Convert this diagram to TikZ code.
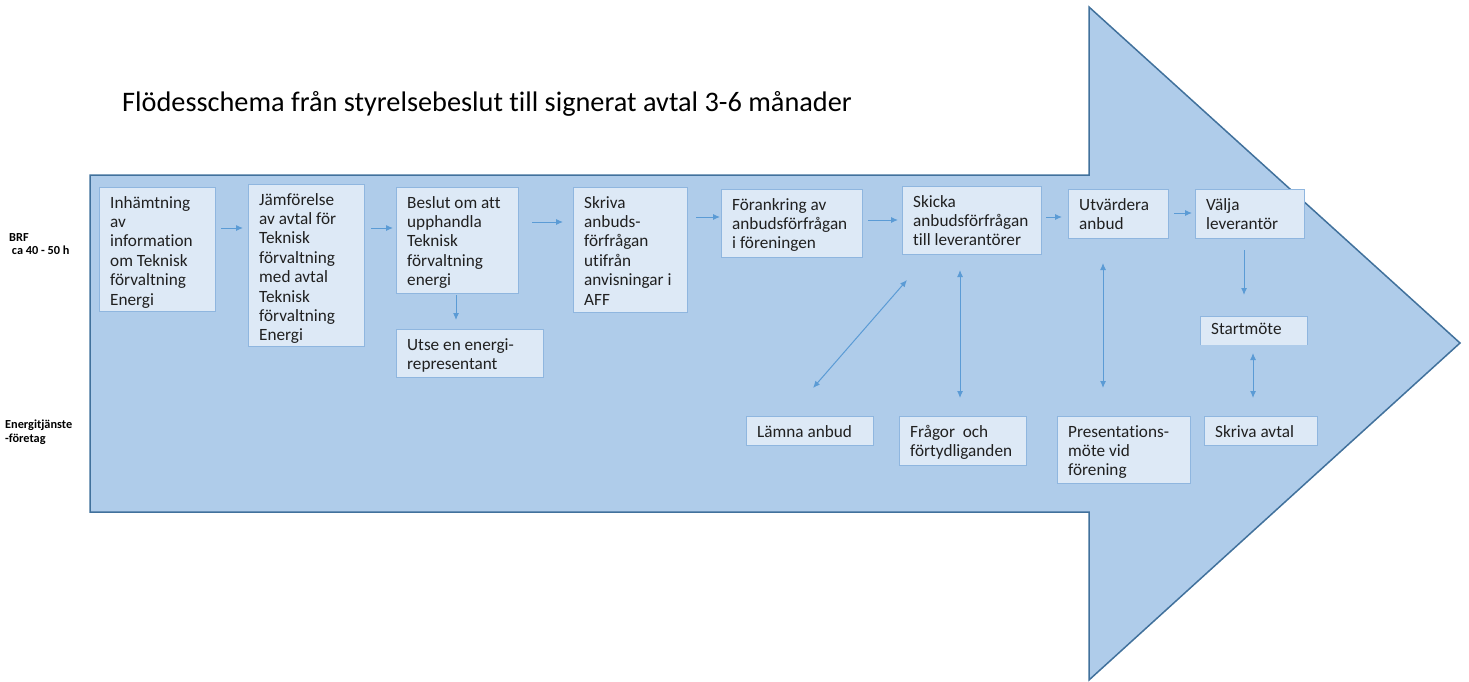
\documentclass[tikz,border=0pt]{standalone}
\usepackage{fontspec}
\setmainfont{Carlito}[Ligatures=NoCommon]
\usetikzlibrary{arrows.meta}
\definecolor{arrowfill}{HTML}{AFCCEA}
\definecolor{arrowline}{HTML}{41719C}
\definecolor{boxfill}{HTML}{DDE9F6}
\definecolor{boxline}{HTML}{8FB6DF}
\definecolor{conn}{HTML}{5B9BD5}
\definecolor{txt}{HTML}{202020}
\tikzset{
  bigarrow/.style={fill=arrowfill, draw=arrowline, line width=1.5pt, line join=miter},
  boxnode/.style={draw=boxline, fill=boxfill, line width=1pt, inner sep=0pt, anchor=north west},
  boxtext/.style={inner sep=0pt, anchor=north west, align=left, text=txt,
     font=\fontsize{17.2}{19.4}\selectfont},
  lane/.style={inner sep=0pt, anchor=north west, align=left, text=black,
     font=\fontsize{12.3}{13.5}\selectfont\bfseries},
  flow/.style={draw=conn, line width=1pt, -{Latex[length=7pt,width=6pt]}},
  both/.style={draw=conn, line width=1pt, {Latex[length=7pt,width=6pt]}-{Latex[length=7pt,width=6pt]}},
}
\newcommand{\bx}[6]{%
  \node[boxnode, minimum width=#4pt-#2pt, minimum height=#5pt-#3pt] (#1) at (#2,#3) {};
  \node[boxtext] (#1t) at ([xshift=11pt,yshift=-9pt]#1.north west) {#6};
}
\begin{document}
\begin{tikzpicture}[x=1pt,y=-1pt]
\useasboundingbox (0,0) rectangle (1469,682);
\draw[bigarrow] (90,175) -- (1089,175) -- (1089,7) -- (1460,343) -- (1089,680) -- (1089,512) -- (90,512) -- cycle;
\node[inner sep=0pt, anchor=base west, font=\fontsize{28.3}{32}\selectfont] (title) at (122,112) {Flödesschema från styrelsebeslut till signerat avtal 3-6 månader};
\node[lane] (brf) at (9,233) {BRF\\\ ca 40 - 50 h};
\node[lane] (energi) at (5,420) {Energitjänste\\-företag};
\bx{b1}{99}{187}{215}{311}{Inhämtning\\av\\information\\om Teknisk\\förvaltning\\Energi}
\bx{b2}{248}{184}{364}{346}{Jämförelse\\av avtal för\\Teknisk\\förvaltning\\med avtal\\Teknisk\\förvaltning\\Energi}
\bx{b3}{396}{187}{518}{293}{Beslut om att\\upphandla\\Teknisk\\förvaltning\\energi}
\bx{b4}{396}{329}{543}{377}{Utse en energi-\\representant}
\bx{b5}{573}{187}{687}{312}{Skriva\\anbuds-\\förfrågan\\utifrån\\anvisningar i\\AFF}
\bx{b6}{721}{189}{862}{257}{Förankring av\\anbudsförfrågan\\i föreningen}
\bx{b7}{902}{186}{1041}{254}{Skicka\\anbudsförfrågan\\till leverantörer}
\bx{b8}{1068}{189}{1168}{238}{Utvärdera\\anbud}
\bx{b9}{1195}{189}{1304}{238}{Välja\\leverantör}
% Startmöte: border open at the bottom
\node[boxnode, draw=none, minimum width=106pt, minimum height=28pt] (b10) at (1200,316) {};
\draw[draw=boxline, line width=1pt] (b10.south west) -- (b10.north west) -- (b10.north east) -- (b10.south east);
\node[boxtext] (b10t) at ([xshift=11pt,yshift=-7pt]b10.north west) {Startmöte};
\bx{b11}{746}{416}{873}{445}{Lämna anbud}
\bx{b12}{899}{416}{1026}{465}{Frågor\ \ och\\förtydliganden}
\bx{b13}{1057}{416}{1190}{483}{Presentations-\\möte vid\\förening}
\bx{b14}{1204}{416}{1317}{445}{Skriva avtal}
% connectors
\draw[flow] ([xshift=5pt]b1.east |- 0,228) -- ([xshift=-5pt]b2.west |- 0,228);
\draw[flow] ([xshift=6pt]b2.east |- 0,228) -- ([xshift=-3pt]b3.west |- 0,228);
\draw[flow] ([xshift=13pt]b3.east |- 0,222) -- ([xshift=-10pt]b5.west |- 0,222);
\draw[flow] ([xshift=8pt]b5.east |- 0,217) -- ([xshift=-1pt]b6.west |- 0,217);
\draw[flow] ([xshift=5pt]b6.east |- 0,220) -- ([xshift=-4pt]b7.west |- 0,220);
\draw[flow] ([xshift=4pt]b7.east |- 0,217) -- ([xshift=-6pt]b8.west |- 0,217);
\draw[flow] ([xshift=5pt]b8.east |- 0,213) -- ([xshift=-3pt]b9.west |- 0,213);
\draw[flow] (456,295) -- (456,320);
\draw[flow] (1244,250) -- (1244,295);
\coordinate (d1) at (907,280);
\coordinate (d2) at (813,388);
\draw[both] (d2) -- (d1);
\draw[both] (960,270) -- (960,398);
\draw[both] (1103,263) -- (1103,388);
\draw[both] (1253,353) -- (1253,398);
\end{tikzpicture}
\end{document}
